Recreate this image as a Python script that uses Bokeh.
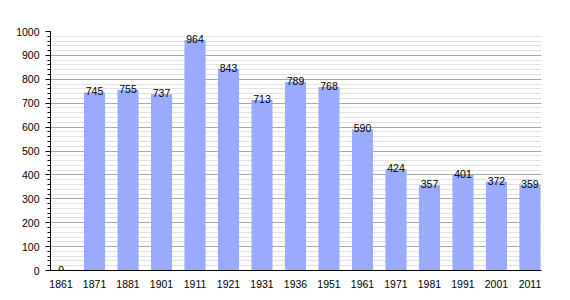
from bokeh.plotting import figure
from bokeh.models import ColumnDataSource, FixedTicker, SingleIntervalTicker, Range1d
from bokeh.core.properties import value
from bokeh.embed import file_html
from bokeh.resources import INLINE

years = ["1861", "1871", "1881", "1901", "1911", "1921", "1931", "1936",
         "1951", "1961", "1971", "1981", "1991", "2001", "2011"]
population = [0, 745, 755, 737, 964, 843, 713, 789, 768, 590, 424, 357, 401, 372, 359]

BAR_W = 0.63
pos = [i + BAR_W / 2 for i in range(len(years))]
src = ColumnDataSource(dict(x=pos, top=population, label=[str(v) for v in population]))

p = figure(width=570, height=300, output_backend="svg", toolbar_location=None,
           x_range=Range1d(0, 14.66), y_range=Range1d(0, 1000),
           min_border_left=50, min_border_right=29, min_border_top=31, min_border_bottom=30)
p.outline_line_color = None
p.background_fill_color = "white"

p.vbar(x="x", top="top", width=BAR_W, source=src, fill_color="#99aaff", line_color=None)
p.text(x="x", y="top", text="label", source=src, text_align="center",
       text_baseline="alphabetic", y_offset=-1, text_font=value("Liberation Sans"),
       text_font_size="10.5px", text_color="black")

p.xgrid.visible = False
p.yaxis.ticker = SingleIntervalTicker(interval=100, num_minor_ticks=5)
p.ygrid.grid_line_color = "#a8a8a8"
p.ygrid.minor_grid_line_color = "#e2e2e2"
p.ygrid.grid_line_width = 1

p.xaxis.ticker = FixedTicker(ticks=pos)
p.xaxis.major_label_overrides = {pos[i]: years[i] for i in range(len(years))}
p.xaxis.major_tick_line_color = None
p.xaxis.minor_tick_line_color = None

for ax in (p.xaxis, p.yaxis):
    ax.axis_line_color = "black"
    ax.major_label_text_font = "Liberation Sans"
    ax.major_label_text_font_size = "10.5px"
    ax.major_label_text_color = "black"

p.yaxis.major_tick_line_color = "black"
p.yaxis.minor_tick_line_color = "black"
p.yaxis.major_tick_in = 0
p.yaxis.major_tick_out = 5
p.yaxis.minor_tick_in = 0
p.yaxis.minor_tick_out = 3
p.yaxis.major_label_standoff = 6
p.xaxis.major_label_standoff = 3

open("out.html", "w").write(file_html(p, INLINE))
